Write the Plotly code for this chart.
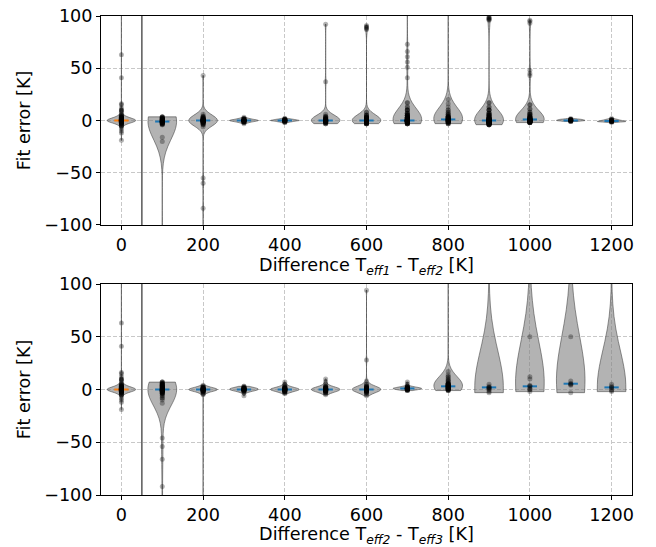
import numpy as np
import plotly.graph_objects as go

# ---------------- data ----------------
positions = [0, 100, 200, 300, 400, 500, 600, 700, 800, 900, 1000, 1100, 1200]
x_ticks = [0, 200, 400, 600, 800, 1000, 1200]
y_ticks = [-100, -50, 0, 50, 100]
separator_x = 50

# Fit errors [K] as (value, number of fits) pairs; panel 1: T_eff1 - T_eff2
top_0 = [(-19, 1), (-12, 1), (-10, 1), (-8, 1), (-6, 1), (-5, 2), (-4, 2), (-3, 4), (-2, 8),
         (-1, 12), (0, 16), (1, 12), (2, 8), (3, 5), (4, 3), (5, 2), (6, 1), (8, 1), (9, 1),
         (10, 2), (12, 1), (15, 1), (16, 1), (41, 1), (63, 1), (130, 1)]
top_100 = [(3.5, 2), (3, 3), (2, 5), (1, 6), (0, 7), (-1, 9), (-2, 7), (-3, 5), (-4, 2),
           (-16, 1), (-20, 1), (-120, 1)]
top_200 = [(-130, 1), (-84, 1), (-60, 1), (-55, 1), (-6, 1), (-4, 2), (-3, 3), (-2, 5),
           (-1, 8), (0, 12), (1, 8), (2, 5), (3, 3), (4, 2), (6, 1), (43, 1)]
top_300 = [(-3, 1), (-2, 3), (-1, 6), (0, 10), (1, 6), (2, 3), (3, 1)]
top_400 = [(-2, 2), (-1, 5), (0, 10), (1, 6), (2, 2)]
top_500 = [(-3, 3), (-2, 5), (-1, 7), (0, 9), (1, 6), (2, 4), (3, 3), (4, 2), (6, 1),
           (37, 1), (92, 1)]
top_600 = [(-3, 6), (-2, 10), (-1, 14), (0, 18), (1, 12), (2, 8), (3, 6), (5, 4), (8, 2),
           (87, 1), (88, 1), (89, 1), (90, 1), (91, 1)]
top_700 = [(-3, 6), (-2, 10), (-1, 16), (0, 24), (1, 12), (2, 10), (3, 8), (5, 6), (7, 4),
           (10, 4), (13, 2), (17, 2), (41, 1), (51, 1), (56, 1), (61, 1), (66, 1), (73, 1),
           (130, 1)]
top_800 = [(-3, 3), (-2, 4), (-1, 6), (0, 8), (1, 7), (2, 6), (3, 5), (4, 4), (6, 3),
           (8, 2), (10, 2), (13, 1), (16, 1), (20, 1), (130, 1), (150, 1)]
top_900 = [(-4, 6), (-3, 8), (-2, 12), (-1, 16), (0, 16), (1, 10), (2, 8), (3, 6), (5, 6),
           (7, 4), (10, 4), (13, 2), (17, 2), (96, 1), (97, 2), (98, 2), (99, 1), (104, 1)]
top_1000 = [(-2, 8), (-1, 12), (0, 12), (1, 12), (2, 8), (3, 4), (4, 4), (6, 4), (8, 2),
            (11, 2), (15, 2), (43, 1), (45, 1), (48, 1), (93, 1), (95, 1), (96, 1)]
top_1100 = [(-1, 3), (0, 8), (1, 6), (2, 1)]
top_1200 = [(-2, 1), (-1, 8), (0, 5), (1, 3), (2, 1)]

# panel 2: T_eff2 - T_eff3
bot_0 = top_0
bot_100 = [(7, 3), (6, 3), (5, 3), (4, 4), (3, 4), (2, 5), (1, 5), (0, 6), (-1, 9), (-2, 5),
           (-3, 4), (-4, 3), (-6, 2), (-8, 2), (-10, 1), (-13, 1), (-46, 1), (-54, 1),
           (-66, 1), (-92, 1), (-130, 1)]
bot_200 = [(-130, 1), (-5, 1), (-4, 1), (-3, 2), (-2, 4), (-1, 6), (0, 10), (1, 6), (2, 4),
           (3, 2), (4, 1)]
bot_300 = [(-6, 1), (-3, 1), (-2, 3), (-1, 5), (0, 10), (1, 8), (2, 4), (3, 2)]
bot_400 = [(-4, 1), (-3, 2), (-2, 4), (-1, 6), (0, 10), (1, 7), (2, 4), (3, 2), (4, 1),
           (5, 1), (7, 1)]
bot_500 = [(-5, 1), (-4, 1), (-3, 2), (-2, 4), (-1, 7), (0, 10), (1, 7), (2, 4), (3, 3),
           (5, 1), (7, 1), (10, 1)]
bot_600 = [(-6, 1), (-5, 1), (-3, 3), (-2, 4), (-1, 7), (0, 10), (1, 7), (2, 5), (3, 3),
           (5, 2), (8, 1), (28, 1), (94, 1)]
bot_700 = [(-1, 3), (0, 7), (1, 10), (2, 6), (3, 3), (5, 1), (7, 1)]
bot_800 = [(-1, 3), (0, 5), (1, 6), (2, 7), (3, 7), (4, 6), (5, 5), (6, 4), (8, 3), (10, 2),
           (12, 2), (14, 1), (17, 1), (130, 1)]
bot_900 = [(-3, 1), (-2, 1), (0, 2), (1, 1), (2, 3), (3, 1), (5, 1), (220, 1)]
bot_1000 = [(-2, 1), (0, 2), (1, 1), (3, 2), (4, 1), (10, 1), (12, 1), (50, 1), (220, 1)]
bot_1100 = [(-3, 1), (4, 1), (5, 2), (6, 1), (8, 1), (50, 1), (220, 1)]
bot_1200 = [(-2, 1), (-1, 1), (0, 1), (2, 2), (3, 1), (5, 1), (200, 1)]

top_data = [top_0, top_100, top_200, top_300, top_400, top_500, top_600, top_700,
            top_800, top_900, top_1000, top_1100, top_1200]
bot_data = [bot_0, bot_100, bot_200, bot_300, bot_400, bot_500, bot_600, bot_700,
            bot_800, bot_900, bot_1000, bot_1100, bot_1200]

# kernel bandwidths [K] of the density estimates
top_bw = [1.6, 17, 5, 0.6, 0.5, 4.5, 5, 10, 10, 9, 8, 0.5, 0.5]
bot_bw = [1.6, 15, 1.2, 1.3, 1.3, 1.8, 2.5, 0.7, 8, 36, 38, 40, 36]

VIOLIN_WIDTH = 70
FILL = "rgba(128,128,128,0.6)"
EDGE = "rgba(60,60,60,0.55)"
POINT = "rgba(0,0,0,0.3)"
BLUE = "#1f77b4"
ORANGE = "#ff7f0e"


def expand(pairs):
    vals = np.array([p[0] for p in pairs], dtype=float)
    cnts = np.array([p[1] for p in pairs], dtype=int)
    return np.repeat(vals, cnts)


fig = go.Figure()
panels = [("x", "y", top_data, top_bw), ("x2", "y2", bot_data, bot_bw)]

for xa, ya, data, bws in panels:
    for pos, pairs, bw in zip(positions, data, bws):
        vals = expand(pairs)
        fig.add_trace(go.Violin(
            x=[pos] * len(vals), y=vals, xaxis=xa, yaxis=ya,
            width=VIOLIN_WIDTH, scalemode="width", side="both",
            spanmode="hard", bandwidth=bw, points=False,
            fillcolor=FILL, line=dict(color=EDGE, width=1),
            box_visible=False, meanline_visible=False,
            showlegend=False, hoverinfo="skip"))

for xa, ya, data, bws in panels:
    for pos, pairs in zip(positions, data):
        med = float(np.median(expand(pairs)))
        fig.add_trace(go.Scatter(
            x=[pos - VIOLIN_WIDTH / 4, pos + VIOLIN_WIDTH / 4], y=[med, med],
            xaxis=xa, yaxis=ya, mode="lines",
            line=dict(color=ORANGE if pos == 0 else BLUE, width=2),
            showlegend=False, hoverinfo="skip"))

for xa, ya, data, bws in panels:
    for pos, pairs in zip(positions, data):
        vals = expand(pairs)
        fig.add_trace(go.Scatter(
            x=[pos] * len(vals), y=vals, xaxis=xa, yaxis=ya, mode="markers",
            marker=dict(color=POINT, size=5, line=dict(width=0)),
            showlegend=False, hoverinfo="skip"))

for xref, yref in [("x", "y domain"), ("x2", "y2 domain")]:
    fig.add_shape(type="line", xref=xref, yref=yref, x0=separator_x, x1=separator_x,
                  y0=0, y1=1, line=dict(color="rgba(70,70,70,0.85)", width=1.6))

font = dict(family="DejaVu Sans", size=17.6, color="black")
axis_common = dict(
    showline=True, linecolor="black", linewidth=1, mirror=True,
    ticks="outside", ticklen=4, tickcolor="black", tickfont=font,
    showgrid=True, gridcolor="#c8c8c8", griddash="4px,2px", gridwidth=1,
    zeroline=False, automargin=False, ticklabeloverflow="allow")

xt1 = "Difference T<sub><i>eff1</i></sub> - T<sub><i>eff2</i></sub> [K]"
xt2 = "Difference T<sub><i>eff2</i></sub> - T<sub><i>eff3</i></sub> [K]"

# the page body adds an 8 px offset, so the figure is 8 px smaller on each side
fig.update_layout(
    width=648, height=539,
    margin=dict(l=93, r=24, t=8, b=52),
    paper_bgcolor="white", plot_bgcolor="white",
    violinmode="overlay",
    font=font,
    xaxis=dict(domain=[0, 1], anchor="y", range=[-50, 1250], tickvals=x_ticks,
               title=dict(text=xt1, font=font, standoff=1), **axis_common),
    yaxis=dict(domain=[0.5637, 1.0], anchor="x", range=[-100, 100], tickvals=y_ticks,
               title=dict(text="Fit error [K]", font=font, standoff=8), **axis_common),
    xaxis2=dict(domain=[0, 1], anchor="y2", range=[-50, 1250], tickvals=x_ticks,
                title=dict(text=xt2, font=font, standoff=2), **axis_common),
    yaxis2=dict(domain=[0, 0.4405], anchor="x2", range=[-100, 100], tickvals=y_ticks,
                title=dict(text="Fit error [K]", font=font, standoff=8), **axis_common),
)

fig.write_html("out.html")
